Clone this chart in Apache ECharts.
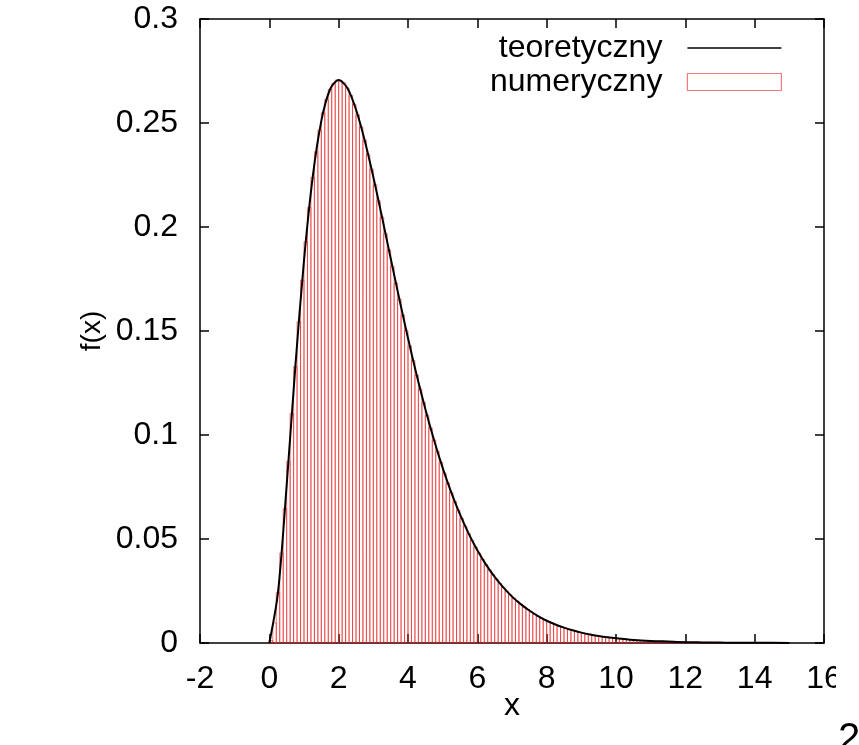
<!DOCTYPE html>
<html>
<head>
<meta charset="utf-8">
<script src="https://cdn.jsdelivr.net/npm/echarts@6/dist/echarts.min.js"></script>
<style>
html, body { margin: 0; padding: 0; background: #fff; }
#chart { width: 859px; height: 745px; }
</style>
</head>
<body>
<div id="chart"></div>
<script>
// histogram: bins of width 0.1 starting at x = 0
var binStart = 0;
var binWidth = 0.1;
var histValues = [
    0.0012, 0.0097, 0.0243, 0.0432, 0.0646, 0.0873, 0.1103, 0.1329, 0.1544, 0.1745,
    0.1929, 0.2094, 0.2238, 0.2362, 0.2466, 0.2549, 0.2614, 0.2661, 0.2690, 0.2706,
    0.2704, 0.2693, 0.2668, 0.2633, 0.2590, 0.2539, 0.2481, 0.2417, 0.2349, 0.2278,
    0.2203, 0.2126, 0.2048, 0.1968, 0.1890, 0.1810, 0.1731, 0.1654, 0.1577, 0.1502,
    0.1429, 0.1357, 0.1288, 0.1221, 0.1157, 0.1094, 0.1034, 0.0976, 0.0921, 0.0868,
    0.0817, 0.0769, 0.0723, 0.0680, 0.0638, 0.0599, 0.0562, 0.0526, 0.0493, 0.0461,
    0.0432, 0.0403, 0.0377, 0.0352, 0.0329, 0.0307, 0.0286, 0.0267, 0.0249, 0.0232,
    0.0216, 0.0201, 0.0187, 0.0174, 0.0161, 0.0150, 0.0139, 0.0129, 0.0120, 0.0112,
    0.0103, 0.0096, 0.0089, 0.0082, 0.0076, 0.0071, 0.0066, 0.0061, 0.0056, 0.0052,
    0.0048, 0.0045, 0.0041, 0.0038, 0.0035, 0.0032, 0.0030, 0.0028, 0.0026, 0.0024,
    0.0022, 0.0020, 0.0019, 0.0017, 0.0016, 0.0015, 0.0013, 0.0012, 0.0011, 0.0011,
    0.0010, 0.0009, 0.0008, 0.0008, 0.0007, 0.0006, 0.0006, 0.0005, 0.0005, 0.0005,
    0.0004, 0.0004, 0.0004, 0.0003, 0.0003, 0.0003, 0.0003, 0.0002, 0.0002, 0.0002,
    0.0002, 0.0002, 0.0002, 0.0001, 0.0001, 0.0001, 0.0001, 0.0001, 0.0001, 0.0001,
    0.0001, 0.0001, 0.0001, 0.0001, 0.0001, 0, 0, 0, 0, 0
];

// theoretical density curve
var theoryX = [
    0, 0.25, 0.5, 0.75, 1, 1.25, 1.5, 1.75, 2, 2.25, 2.5, 2.75, 3, 3.25, 3.5, 3.75,
    4, 4.25, 4.5, 4.75, 5, 5.25, 5.5, 5.75, 6, 6.25, 6.5, 6.75, 7, 7.25, 7.5, 7.75,
    8, 8.25, 8.5, 8.75, 9, 9.25, 9.5, 9.75, 10, 10.5, 11, 11.5, 12, 12.5, 13, 13.5, 14, 14.5, 15
];
var theoryY = [
    0, 0.0243, 0.0758, 0.1329, 0.1839, 0.2238, 0.2510, 0.2661, 0.2707, 0.2668, 0.2565, 0.2417, 0.2240, 0.2048, 0.1850, 0.1654,
    0.1465, 0.1288, 0.1125, 0.0976, 0.0842, 0.0723, 0.0618, 0.0526, 0.0446, 0.0377, 0.0318, 0.0267, 0.0223, 0.0187, 0.0156, 0.0129,
    0.0107, 0.0089, 0.0074, 0.0061, 0.0050, 0.0041, 0.0034, 0.0028, 0.0023, 0.0015, 0.0010, 0.0007, 0.0004, 0.0003, 0.0002, 0.0001, 0.0001, 0.0001, 0
];

var seriesNames = ['teoretyczny', 'numeryczny'];
var xLabelName = 'x';
var yLabelName = 'f(x)';

var font = 'Liberation Sans';
var histColor = 'rgba(232, 30, 30, 0.58)';

var histData = [];
for (var i = 0; i < histValues.length; i++) {
    histData.push([binStart + i * binWidth, binStart + (i + 1) * binWidth, histValues[i]]);
}
var curveData = [];
for (var j = 0; j < theoryX.length; j++) {
    curveData.push([theoryX[j], theoryY[j]]);
}

var chart = echarts.init(document.getElementById('chart'));

var frameLine = { show: true, onZero: false, lineStyle: { color: '#000', width: 1.5 } };
var innerTick = { show: true, inside: true, length: 9, lineStyle: { color: '#000', width: 1.5 } };

var option = {
    backgroundColor: '#fff',
    animation: false,
    grid: { left: 200, right: 35, top: 19, bottom: 102 },
    legend: {
        orient: 'vertical',
        right: 77,
        top: 32,
        padding: 0,
        align: 'right',
        itemWidth: 94,
        itemHeight: 17,
        itemGap: 2,
        textStyle: { fontFamily: font, fontSize: 32, color: '#000', lineHeight: 30, padding: [0, 20, 0, 0] },
        data: [
            { name: seriesNames[0], icon: 'path://M0,0L100,0L100,1.6L0,1.6Z', itemStyle: { color: '#000' } },
            { name: seriesNames[1], icon: 'rect', itemStyle: { color: 'rgba(0,0,0,0)', borderColor: histColor, borderWidth: 1.2 } }
        ]
    },
    xAxis: [{
        type: 'value',
        min: -2,
        max: 16,
        interval: 2,
        name: xLabelName,
        nameLocation: 'middle',
        nameGap: 47,
        nameMoveOverlap: false,
        nameTextStyle: { fontFamily: font, fontSize: 32, color: '#000' },
        axisLine: frameLine,
        axisTick: innerTick,
        axisLabel: { fontFamily: font, fontSize: 32, color: '#000', margin: 20 },
        splitLine: { show: false }
    }, {
        type: 'value',
        position: 'top',
        min: -2,
        max: 16,
        interval: 2,
        axisLine: frameLine,
        axisTick: innerTick,
        axisLabel: { show: false },
        splitLine: { show: false }
    }],
    yAxis: [{
        type: 'value',
        min: 0,
        max: 0.3,
        interval: 0.05,
        name: yLabelName,
        nameLocation: 'middle',
        nameRotate: 90,
        nameGap: 94,
        nameMoveOverlap: false,
        nameTextStyle: { fontFamily: font, fontSize: 28, color: '#000' },
        axisLine: frameLine,
        axisTick: innerTick,
        axisLabel: { fontFamily: font, fontSize: 32, color: '#000', margin: 22 },
        splitLine: { show: false }
    }, {
        type: 'value',
        position: 'right',
        min: 0,
        max: 0.3,
        interval: 0.05,
        axisLine: frameLine,
        axisTick: innerTick,
        axisLabel: { show: false },
        splitLine: { show: false }
    }],
    series: [{
        name: seriesNames[1],
        type: 'custom',
        xAxisIndex: 0,
        yAxisIndex: 0,
        encode: { x: [0, 1], y: 2 },
        data: histData,
        z: 2,
        renderItem: function (params, api) {
            var topLeft = api.coord([api.value(0), api.value(2)]);
            var bottomRight = api.coord([api.value(1), 0]);
            return {
                type: 'rect',
                shape: {
                    x: topLeft[0],
                    y: topLeft[1],
                    width: bottomRight[0] - topLeft[0],
                    height: bottomRight[1] - topLeft[1]
                },
                style: { fill: 'none', stroke: histColor, lineWidth: 1 }
            };
        }
    }, {
        name: seriesNames[0],
        type: 'line',
        xAxisIndex: 0,
        yAxisIndex: 0,
        data: curveData,
        symbol: 'none',
        smooth: 0.3,
        z: 3,
        lineStyle: { color: '#000', width: 2 },
        itemStyle: { color: '#000' }
    }],
    graphic: [{
        type: 'rect',
        z: 100,
        shape: { x: 836, y: 652, width: 23, height: 50 },
        style: { fill: '#fff' }
    }, {
        type: 'text',
        z: 100,
        left: 838,
        top: 720,
        style: { text: '2', font: '40px "Liberation Sans"', fill: '#000' }
    }]
};

chart.setOption(option);
</script>
</body>
</html>
